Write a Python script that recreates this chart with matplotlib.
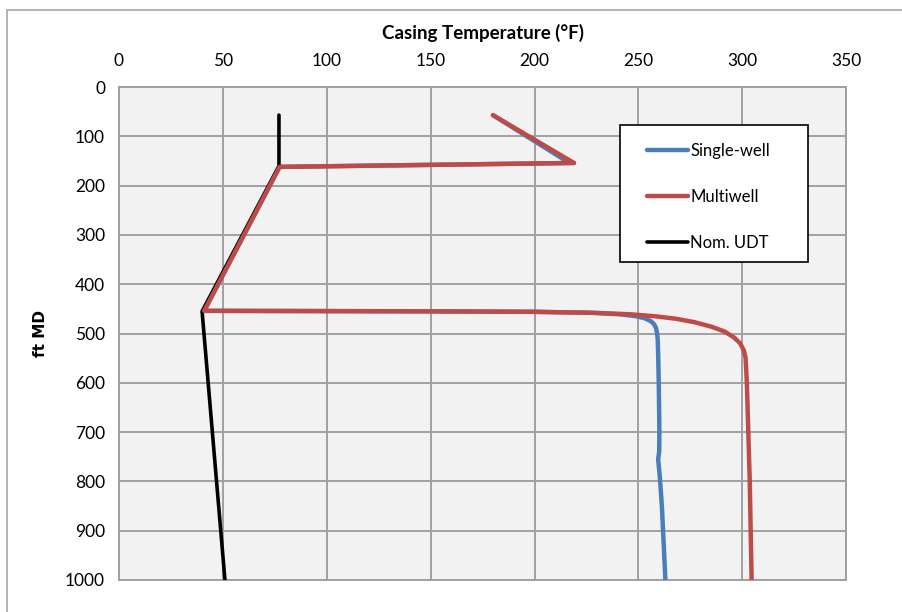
import matplotlib.pyplot as plt
from matplotlib.patches import Rectangle

# depth (ft MD) and casing temperature (F)
single_depth = [57, 152, 154, 162, 454, 455, 456, 458, 461, 465, 469, 475, 481, 489, 500, 512,
                540, 600, 700, 740, 755, 790, 850, 1000]
single_temp = [180, 216, 219, 77.3, 41, 150, 200, 228, 241, 249, 253, 256, 257.5, 258.5, 259,
               259.3, 259.5, 259.8, 260.1, 260.0, 259.5, 260.3, 261.3, 263]

multi_depth = [57, 154, 162, 454, 455, 456, 458, 461, 465, 470, 477, 486, 496, 508, 520,
               535, 550, 600, 700, 800, 1000]
multi_temp = [180, 219, 77.3, 41, 150, 200, 228, 246, 258, 268, 277, 285, 291.5, 296, 299,
              300.8, 301.6, 302.2, 302.9, 303.6, 304.5]

udt_depth = [57, 160, 455, 1000]
udt_temp = [77, 77, 40, 51]

x_ticks = [0, 50, 100, 150, 200, 250, 300, 350]
y_ticks = [0, 100, 200, 300, 400, 500, 600, 700, 800, 900, 1000]

plt.rcParams['font.family'] = ['Lato', 'DejaVu Sans']

fig = plt.figure(figsize=(9.02, 6.12), dpi=100)
fig.patches.append(Rectangle((0.008, -0.02), 1.1, 1.004, transform=fig.transFigure,
                             fill=False, edgecolor='#a6a6a6', linewidth=1.2))
ax = fig.add_axes([0.1319, 0.0523, 0.8062, 0.8055])
ax.set_facecolor('#f2f2f2')

ax.plot(single_temp, single_depth, color='#4a7ebb', lw=3.2, label='Single-well',
        solid_capstyle='round', zorder=3)
ax.plot(udt_temp, udt_depth, color='black', lw=2.6, label='Nom. UDT',
        solid_capstyle='round', zorder=3)
ax.plot(multi_temp, multi_depth, color='#be4b48', lw=3.2, label='Multiwell',
        solid_capstyle='round', zorder=4)

ax.set_xlim(0, 350)
ax.set_ylim(1000, 0)
ax.set_xticks(x_ticks)
ax.set_yticks(y_ticks)
ax.xaxis.tick_top()
ax.xaxis.set_label_position('top')
ax.tick_params(length=0, labelsize=12.5, pad=13)
ax.tick_params(axis='y', pad=10)
ax.grid(True, color='#a0a0a0', lw=1.4)
ax.set_axisbelow(True)
for s in ax.spines.values():
    s.set_color('#a0a0a0')
    s.set_linewidth(1.4)

ax.set_xlabel('Casing Temperature (°F)', fontsize=13.5, fontweight='bold', labelpad=10)
ax.set_ylabel('ft MD', fontsize=11, fontweight='bold', labelpad=12, family='DejaVu Sans')

# legend box drawn by hand so the padding can match
ax.add_patch(Rectangle((0.6886, 0.645), 0.2594, 0.278, transform=ax.transAxes,
                       facecolor='white', edgecolor='black', lw=1.2, zorder=5))
handles, labels = ax.get_legend_handles_labels()
order = [0, 2, 1]
leg = ax.legend([handles[i] for i in order], [labels[i] for i in order],
                loc='upper left', bbox_to_anchor=(0.7257, 0.886), fontsize=12,
                frameon=False, handlelength=2.5, handletextpad=0.1,
                labelspacing=1.8, borderpad=0, borderaxespad=0)
leg.set_zorder(6)

fig.savefig('out.png', dpi=100)
